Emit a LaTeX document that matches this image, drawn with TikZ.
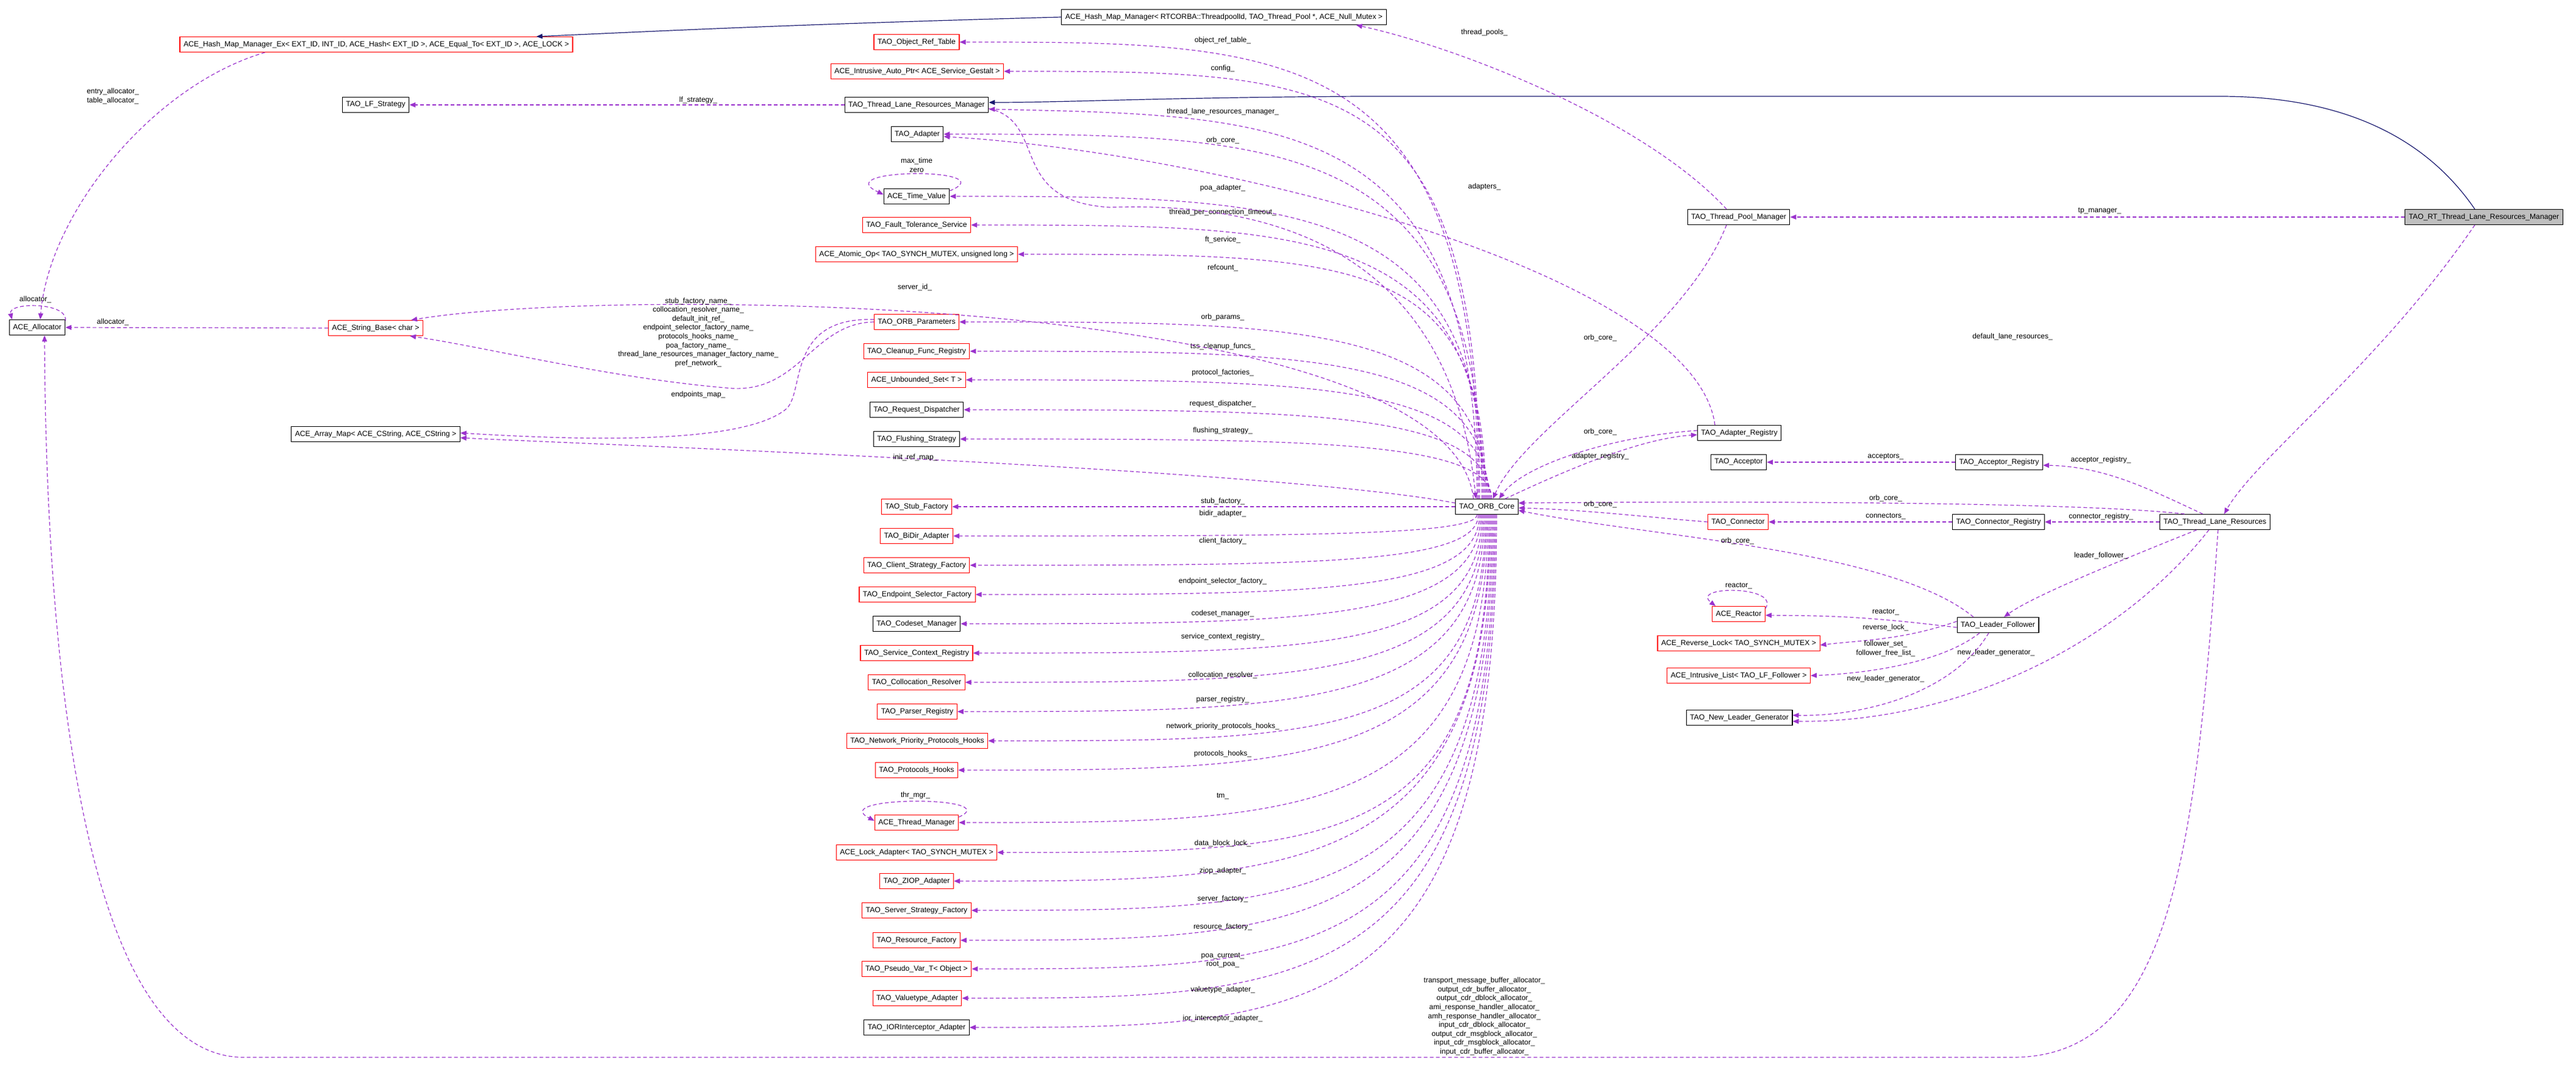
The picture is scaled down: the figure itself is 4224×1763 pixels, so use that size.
\documentclass[tikz,border=0pt]{standalone}
\usepackage{fontspec}
\setmainfont{Liberation Sans}
\usetikzlibrary{arrows.meta,calc}
\definecolor{dep}{HTML}{9A32CD}
\definecolor{navy}{HTML}{191970}
\catcode`\_=12
\begin{document}
\begin{tikzpicture}[x=1pt,y=-1pt,
 box/.style={draw=black,fill=white,line width=1.1pt,inner xsep=6pt,minimum height=25pt,font=\fontsize{12.2}{14}\selectfont},
 rbox/.style={box,draw=red},
 gbox/.style={box,fill=black!25},
 dep/.style={draw=dep,dash pattern=on 6pt off 4pt,line width=1.2pt,-{Triangle[length=10pt,width=8pt]}},
 inh/.style={draw=navy,line width=1.2pt,-{Triangle[length=10pt,width=8pt]}},
 lab/.style={font=\fontsize{12}{14.6}\selectfont,inner sep=0pt,align=center}]
\path[use as bounding box,fill=white] (0,0) rectangle (4224,1763);
% left-hand nodes
\node[rbox] (hex) at (617,73) {ACE_Hash_Map_Manager_Ex< EXT_ID, INT_ID, ACE_Hash< EXT_ID >, ACE_Equal_To< EXT_ID >, ACE_LOCK >};
\node[box] (lfs) at (616,172) {TAO_LF_Strategy};
\node[box] (al) at (61,537) {ACE_Allocator};
\node[rbox] (sb) at (616,538) {ACE_String_Base< char >};
\node[box] (am) at (616,712) {ACE_Array_Map< ACE_CString, ACE_CString >};
\node[box] (hmr) at (2007,28) {ACE_Hash_Map_Manager< RTCORBA::ThreadpoolId, TAO_Thread_Pool *, ACE_Null_Mutex >};
% column
\node[rbox] (ort) at (1503,69) {TAO_Object_Ref_Table};
\node[rbox] (iap) at (1504,117) {ACE_Intrusive_Auto_Ptr< ACE_Service_Gestalt >};
\node[box] (tlrm) at (1503,172) {TAO_Thread_Lane_Resources_Manager};
\node[box] (ada) at (1504,220) {TAO_Adapter};
\node[box] (tv) at (1503,322) {ACE_Time_Value};
\node[rbox] (fts) at (1503,369) {TAO_Fault_Tolerance_Service};
\node[rbox] (aop) at (1503,417) {ACE_Atomic_Op< TAO_SYNCH_MUTEX, unsigned long >};
\node[rbox] (op) at (1503,528) {TAO_ORB_Parameters};
\node[rbox] (cfr) at (1503,576) {TAO_Cleanup_Func_Registry};
\node[rbox] (us) at (1503,623) {ACE_Unbounded_Set< T >};
\node[box] (rd) at (1503,672) {TAO_Request_Dispatcher};
\node[box] (fs) at (1503,720) {TAO_Flushing_Strategy};
\node[rbox] (sf) at (1503,831) {TAO_Stub_Factory};
\node[rbox] (bd) at (1503,879) {TAO_BiDir_Adapter};
\node[rbox] (csf) at (1503,927) {TAO_Client_Strategy_Factory};
\node[rbox] (esf) at (1504,975) {TAO_Endpoint_Selector_Factory};
\node[box] (cm) at (1503,1023) {TAO_Codeset_Manager};
\node[rbox] (scr) at (1503,1071) {TAO_Service_Context_Registry};
\node[rbox] (cr) at (1503,1119) {TAO_Collocation_Resolver};
\node[rbox] (pr) at (1504,1167) {TAO_Parser_Registry};
\node[rbox] (npph) at (1504,1215) {TAO_Network_Priority_Protocols_Hooks};
\node[rbox] (ph) at (1503,1263) {TAO_Protocols_Hooks};
\node[rbox] (tm) at (1503,1349) {ACE_Thread_Manager};
\node[rbox] (la) at (1503,1398) {ACE_Lock_Adapter< TAO_SYNCH_MUTEX >};
\node[rbox] (ziop) at (1503,1445) {TAO_ZIOP_Adapter};
\node[rbox] (ssf) at (1503,1493) {TAO_Server_Strategy_Factory};
\node[rbox] (rf) at (1503,1542) {TAO_Resource_Factory};
\node[rbox] (pv) at (1503,1589) {TAO_Pseudo_Var_T< Object >};
\node[rbox] (va) at (1504,1637) {TAO_Valuetype_Adapter};
\node[box] (ior) at (1503,1685) {TAO_IORInterceptor_Adapter};
% core and right
\node[box] (core) at (2438,831) {TAO_ORB_Core};
\node[box] (tpm) at (2851,356) {TAO_Thread_Pool_Manager};
\node[gbox] (rt) at (4073,356) {TAO_RT_Thread_Lane_Resources_Manager};
\node[box] (ar) at (2852,710) {TAO_Adapter_Registry};
\node[box] (acc) at (2851,758) {TAO_Acceptor};
\node[box] (acr) at (3278,758) {TAO_Acceptor_Registry};
\node[rbox] (cn) at (2850,856) {TAO_Connector};
\node[box] (cnr) at (3277,856) {TAO_Connector_Registry};
\node[box] (tlr) at (3632,856) {TAO_Thread_Lane_Resources};
\node[rbox] (reac) at (2851,1007) {ACE_Reactor};
\node[box] (lf) at (3276,1025) {TAO_Leader_Follower};
\node[rbox] (rl) at (2851,1055) {ACE_Reverse_Lock< TAO_SYNCH_MUTEX >};
\node[rbox] (il) at (2851,1108) {ACE_Intrusive_List< TAO_LF_Follower >};
\node[box] (nlg) at (2852,1177) {TAO_New_Leader_Generator};
% core -> column (upper)
\foreach \n/\t/\ly/\sx in {ort/object_ref_table_/66/-14,iap/config_/112/-12,ada/poa_adapter_/308/-8,tv/thread_per_connection_timeout_/348/-6,fts/ft_service_/393/-4,aop/refcount_/439/-2,op/orb_params_/520/0,cfr/tss_cleanup_funcs_/568/2,us/protocol_factories_/611/4,rd/request_dispatcher_/662/6,fs/flushing_strategy_/706/8}{
  \draw[dep] ([xshift=\sx pt]core.north) .. controls ([xshift=\sx pt]core.north |- \n.east) and ([xshift=550pt]\n.east) .. (\n.east);
  \node[lab] at (2005,\ly) {\t};}
\draw[dep] ([xshift=-16pt]core.north) .. controls ([xshift=-16pt]core.north |- tlrm.south east) and (2100,190) .. ([yshift=-7pt]tlrm.east);
\node[lab] at (2005,183) {thread_lane_resources_manager_};
\draw[dep] (core.west) -- (sf.east);
\node[lab] at (2005,822) {stub_factory_};
\foreach \n/\t/\ly/\sx in {bd/bidir_adapter_/842/-16,csf/client_factory_/887/-14,esf/endpoint_selector_factory_/953/-12,cm/codeset_manager_/1006/-10,scr/service_context_registry_/1044/-8,cr/collocation_resolver_/1107/-6,pr/parser_registry_/1147/-4,npph/network_priority_protocols_hooks_/1191/-2,ph/protocols_hooks_/1236/0,tm/tm_/1306/2,la/data_block_lock_/1383/4,ziop/ziop_adapter_/1428/6,ssf/server_factory_/1474/8,rf/resource_factory_/1520/10,va/valuetype_adapter_/1623/14,ior/ior_interceptor_adapter_/1670/16}{
  \draw[dep] ([xshift=\sx pt]core.south) .. controls ([xshift=\sx pt]core.south |- \n.east) and ([xshift=550pt]\n.east) .. (\n.east);
  \node[lab] at (2005,\ly) {\t};}
\draw[dep] ([xshift=12pt]core.south) .. controls ([xshift=12pt]core.south |- pv.east) and ([xshift=550pt]pv.east) .. (pv.east);
\node[lab] at (2005,1575) {poa_current_\\root_poa_};
% self loops
\draw[dep] ([yshift=-2pt]al.north east) .. controls (112,495) and (12,495) .. ([xshift=5pt]al.north west);
\node[lab] at (58,491) {allocator_};
\draw[dep] ([yshift=-4pt]tv.north east) .. controls (1650,275) and (1355,275) .. ([yshift=3pt]tv.west);
\node[lab] at (1503,271) {max_time\\zero};
\draw[dep] ([yshift=-4pt]tm.north east) .. controls (1650,1305) and (1355,1305) .. ([yshift=3pt]tm.west);
\node[lab] at (1501,1304) {thr_mgr_};
\draw[dep] ([yshift=-4pt]reac.north east) .. controls (2920,960) and (2770,960) .. ([xshift=6pt]reac.north west);
\node[lab] at (2851,961) {reactor_};
% inheritance
\draw[inh] ([xshift=-15pt]rt.north) .. controls (3960,200) and (3800,158) .. (3640,158) -- (2230,158) .. controls (1900,160) and (1750,168) .. ([yshift=4pt]tlrm.east);
\draw[inh] (hmr.west) .. controls (1300,40) and (1100,50) .. ([xshift=-60pt]hex.north east);
% left area
\draw[dep] ([xshift=140pt]hex.south west) .. controls (250,140) and (80,350) .. ([xshift=5pt]al.north);
\node[lab] at (185,158) {entry_allocator_\\table_allocator_};
\draw[dep] (sb.west) -- (al.east);
\node[lab] at (185,528) {allocator_};
\draw[dep] (tlrm.west) -- (lfs.east);
\node[lab] at (1145,164) {lf_strategy_};
\draw[dep] ([xshift=-22pt]core.north) .. controls (2380,480) and (1000,470) .. ([xshift=-20pt]sb.north east);
\node[lab] at (1500,471) {server_id_};
\draw[dep] (op.west) .. controls (1330,530) and (1310,650) .. (1190,636) .. controls (1000,620) and (800,570) .. ([xshift=-22pt]sb.south east);
\node[lab] at (1145,545) {stub_factory_name_\\collocation_resolver_name_\\default_init_ref_\\endpoint_selector_factory_name_\\protocols_hooks_name_\\poa_factory_name_\\thread_lane_resources_manager_factory_name_\\pref_network_};
\draw[dep] ([yshift=4pt]op.west) .. controls (1290,520) and (1320,640) .. (1290,670) .. controls (1220,730) and (950,722) .. ([yshift=2pt]am.east);
\node[lab] at (1145,647) {endpoints_map_};
\draw[dep] ([yshift=6pt]core.west) .. controls (2100,770) and (1000,730) .. ([yshift=-6pt]am.east);
\node[lab] at (1501,750) {init_ref_map_};
\draw[dep] ([yshift=-6pt]tlrm.east) .. controls (1720,200) and (1650,330) .. (1820,340) .. controls (2100,330) and (2380,420) .. ([xshift=-18pt]core.north);
\node[lab] at (2005,230) {orb_core_};
% right area
\draw[dep] (rt.west) -- (tpm.east);
\node[lab] at (3443,346) {tp_manager_};
\draw[dep] ([xshift=-20pt]tpm.north) .. controls (2700,200) and (2400,80) .. ([xshift=-50pt]hmr.south east);
\node[lab] at (2434,53) {thread_pools_};
\draw[dep] ([xshift=-15pt]rt.south) .. controls (3900,600) and (3700,750) .. ([xshift=15pt]tlr.north);
\node[lab] at (3300,552) {default_lane_resources_};
\draw[dep] ([xshift=-20pt]tpm.south) .. controls (2760,550) and (2500,700) .. ([xshift=10pt]core.north);
\node[lab] at (2624,554) {orb_core_};
\draw[dep] ([xshift=-40pt]ar.north) .. controls (2780,450) and (2000,250) .. ([yshift=-4pt]ada.east);
\node[lab] at (2434,306) {adapters_};
\draw[dep] ([yshift=4pt]ar.west) .. controls (2650,715) and (2500,760) .. ([xshift=20pt]core.north);
\node[lab] at (2624,708) {orb_core_};
\draw[dep] ([xshift=30pt]core.north) .. controls (2550,780) and (2680,720) .. ([yshift=-3pt]ar.west);
\node[lab] at (2624,748) {adapter_registry_};
\draw[dep] (acr.west) -- (acc.east);
\node[lab] at (3092,749) {acceptors_};
\draw[dep] ([xshift=-20pt]tlr.north) .. controls (3520,800) and (3450,765) .. ([yshift=-5pt]acr.east);
\node[lab] at (3445,754) {acceptor_registry_};
\draw[dep] (cnr.west) -- (cn.east);
\node[lab] at (3092,847) {connectors_};
\draw[dep] (tlr.west) -- (cnr.east);
\node[lab] at (3445,847) {connector_registry_};
\draw[dep] ([xshift=-50pt]tlr.north) .. controls (3400,822) and (2800,822) .. ([yshift=6pt]core.east);
\node[lab] at (3092,817) {orb_core_};
\draw[dep] (cn.west) .. controls (2700,848) and (2600,836) .. ([yshift=-2pt]core.east);
\node[lab] at (2624,827) {orb_core_};
\draw[dep] ([xshift=-40pt]lf.north) .. controls (3100,900) and (2700,880) .. ([yshift=-6pt]core.east);
\node[lab] at (2849,887) {orb_core_};
\draw[dep] ([xshift=-30pt]tlr.south) .. controls (3450,930) and (3330,980) .. ([xshift=10pt]lf.north);
\node[lab] at (3445,911) {leader_follower_};
\draw[dep] ([yshift=-4pt]lf.west) .. controls (3050,1010) and (3000,1010) .. ([yshift=-2pt]reac.east);
\node[lab] at (3092,1004) {reactor_};
\draw[dep] ([yshift=6pt]lf.west) .. controls (3120,1050) and (3050,1050) .. ([yshift=-3pt]rl.east);
\node[lab] at (3092,1029) {reverse_lock_};
\draw[dep] ([xshift=-30pt]lf.south) .. controls (3180,1090) and (3050,1105) .. (il.east);
\node[lab] at (3092,1064) {follower_set_\\follower_free_list_};
\draw[dep] ([xshift=-15pt]lf.south) .. controls (3200,1140) and (3050,1175) .. ([yshift=4pt]nlg.east);
\node[lab] at (3092,1113) {new_leader_generator_};
\draw[dep] ([xshift=-10pt]tlr.south) .. controls (3480,1050) and (3220,1185) .. ([yshift=-6pt]nlg.east);
\node[lab] at (3273,1070) {new_leader_generator_};
\draw[dep] ([xshift=5pt]tlr.south) .. controls (3600,1400) and (3560,1734) .. (3300,1734) -- (400,1734) .. controls (120,1734) and (75,1000) .. ([xshift=12pt]al.south);
\node[lab] at (2434,1667) {transport_message_buffer_allocator_\\output_cdr_buffer_allocator_\\output_cdr_dblock_allocator_\\ami_response_handler_allocator_\\amh_response_handler_allocator_\\input_cdr_dblock_allocator_\\output_cdr_msgblock_allocator_\\input_cdr_msgblock_allocator_\\input_cdr_buffer_allocator_};
\end{tikzpicture}
\end{document}
